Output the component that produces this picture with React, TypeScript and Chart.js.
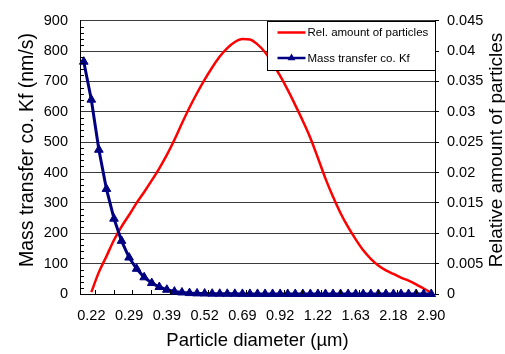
import React, { useEffect, useRef } from "react";
import { Chart, registerables } from "chart.js";

Chart.register(...registerables);

// ---- data ----
const xTickLabels = ["0.22", "0.29", "0.39", "0.52", "0.69", "0.92", "1.22", "1.63", "2.18", "2.90"];

// Mass transfer coefficient Kf (nm/s), one value per size class
const kfValues = [
  765, 640, 475, 346, 248, 175, 120, 83, 55, 36,
  23, 14, 8, 5, 3, 2, 1.5, 1, 0.8, 0.6,
  0.5, 0.4, 0.3, 0.3, 0.2, 0.2, 0.2, 0.1, 0.1, 0.1,
  0.1, 0.1, 0.1, 0, 0, 0, 0, 0, 0, 0,
  0, 0, 0, 0, 0, 0, 0,
];

// Relative amount of particles, one value per size class
const relAmount = [
  null, 0.0003, 0.0036, 0.0062, 0.0089, 0.0111, 0.013, 0.015, 0.0168, 0.0187,
  0.0207, 0.0229, 0.0254, 0.0281, 0.0307, 0.0331, 0.0353, 0.0373, 0.0391, 0.0405,
  0.0415, 0.042, 0.0419, 0.0411, 0.0398, 0.038, 0.0359, 0.0336, 0.0311, 0.0285,
  0.0257, 0.0224, 0.019, 0.016, 0.0133, 0.011, 0.009, 0.0072, 0.0058, 0.0047,
  0.0039, 0.0033, 0.0027, 0.0022, 0.0016, 0.0009, 0.0002,
];

// category labels: a label on every fifth size class, starting with the second
const categories = kfValues.map((_, i) => ((i - 1) % 5 === 0 ? xTickLabels[(i - 1) / 5] : ""));

const leftTicks = [0, 100, 200, 300, 400, 500, 600, 700, 800, 900];
const rightTicks = [0, 0.005, 0.01, 0.015, 0.02, 0.025, 0.03, 0.035, 0.04, 0.045];

const seriesNames = ["Rel. amount of particles", "Mass transfer co. Kf"];
const xTitle = "Particle diameter (\u00b5m)";
const yTitle = "Mass transfer co. Kf (nm/s)";
const y1Title = "Relative amount of particles";

const FONT = "'Liberation Sans', Arial, sans-serif";
const RED = "#ff0000";
const NAVY = "#000080";

function drawTriangle(ctx: CanvasRenderingContext2D, x: number, y: number, r: number) {
  ctx.beginPath();
  ctx.moveTo(x, y - r);
  ctx.lineTo(x + r * 0.866, y + r * 0.5);
  ctx.lineTo(x - r * 0.866, y + r * 0.5);
  ctx.closePath();
  ctx.fill();
}

const decorPlugin = {
  id: "decor",
  afterDraw(chart: any) {
    const ctx: CanvasRenderingContext2D = chart.ctx;
    const area = chart.chartArea;
    const yScale = chart.scales.y;
    const xScale = chart.scales.x;
    ctx.save();
    // minor ticks on left axis (inside)
    ctx.strokeStyle = "#000";
    ctx.lineWidth = 1;
    for (let v = 20; v < 900; v += 20) {
      if (v % 100 === 0) continue;
      const y = Math.round(yScale.getPixelForValue(v)) + 0.5;
      ctx.beginPath();
      ctx.moveTo(area.left, y);
      ctx.lineTo(area.left + 4, y);
      ctx.stroke();
    }
    // tick marks on bottom axis (inside)
    for (let k = 0; k <= 18; k++) {
      const idx = 1.45 + 2.5 * k;
      if (idx > kfValues.length - 1) break;
      const x = Math.round(xScale.getPixelForValue(idx)) + 0.5;
      ctx.beginPath();
      ctx.moveTo(x, area.bottom);
      ctx.lineTo(x, area.bottom - 4);
      ctx.stroke();
    }

    // legend box
    const lw = 168;
    const lh = 49;
    const lx = Math.round(area.right - lw) + 0.5;
    const ly = Math.round(area.top) + 0.5;
    ctx.fillStyle = "#fff";
    ctx.fillRect(lx, ly, lw, lh);
    ctx.strokeStyle = "#000";
    ctx.lineWidth = 1;
    ctx.strokeRect(lx, ly, lw, lh);
    const rows = [ly + 11, ly + 36.5];
    const colors = [RED, NAVY];
    ctx.font = `11.5px ${FONT}`;
    ctx.textBaseline = "middle";
    ctx.textAlign = "left";
    for (let i = 0; i < 2; i++) {
      ctx.strokeStyle = colors[i];
      ctx.lineWidth = 2.5;
      ctx.beginPath();
      ctx.moveTo(lx + 10, rows[i]);
      ctx.lineTo(lx + 38, rows[i]);
      ctx.stroke();
      if (i === 1) {
        ctx.fillStyle = NAVY;
        drawTriangle(ctx, lx + 24, rows[i], 4.5);
      }
      ctx.fillStyle = "#000";
      ctx.fillText(seriesNames[i], lx + 40, rows[i] + 0.5);
    }

    // axis titles
    ctx.fillStyle = "#000";
    ctx.textAlign = "center";
    ctx.textBaseline = "alphabetic";
    ctx.font = `19.5px ${FONT}`;
    ctx.save();
    ctx.translate(33, 150);
    ctx.rotate(-Math.PI / 2);
    ctx.fillText(yTitle, 0, 0);
    ctx.restore();
    ctx.font = `19px ${FONT}`;
    ctx.save();
    ctx.translate(502, 150);
    ctx.rotate(-Math.PI / 2);
    ctx.fillText(y1Title, 0, 0);
    ctx.restore();
    ctx.font = `18.5px ${FONT}`;
    ctx.fillText(xTitle, (area.left + area.right) / 2, 346);
    ctx.restore();
  },
};

export default function App() {
  const ref = useRef<HTMLCanvasElement>(null);
  useEffect(() => {
    document.body.style.margin = "0";
    if (!ref.current) return;
    const chart = new Chart(ref.current, {
      type: "line",
      data: {
        labels: categories,
        datasets: [
          {
            label: seriesNames[0],
            data: relAmount as any,
            yAxisID: "y1",
            borderColor: RED,
            backgroundColor: RED,
            borderWidth: 2.5,
            pointRadius: 0,
            cubicInterpolationMode: "monotone",
            clip: false as any,
            order: 2,
          },
          {
            label: seriesNames[1],
            data: kfValues,
            yAxisID: "y",
            borderColor: NAVY,
            backgroundColor: NAVY,
            borderWidth: 3,
            pointStyle: "triangle",
            pointRadius: 5,
            pointBorderWidth: 1,
            pointBorderColor: NAVY,
            pointBackgroundColor: NAVY,
            tension: 0,
            clip: false as any,
            order: 1,
          },
        ],
      },
      options: {
        responsive: false,
        animation: false,
        events: [],
        layout: { padding: { top: 15, left: 0, right: 0, bottom: 0 } },
        plugins: { legend: { display: false }, tooltip: { enabled: false } },
        scales: {
          x: {
            type: "category",
            offset: true,
            grid: { display: false },
            border: { display: true, color: "#000", width: 1 },
            ticks: {
              autoSkip: false,
              maxRotation: 0,
              padding: 5,
              color: "#000",
              font: { family: FONT, size: 14.5 },
              callback: (_v: any, i: number) => categories[i],
            },
            afterFit: (s: any) => {
              s.height = 60;
            },
          },
          y: {
            position: "left",
            min: 0,
            max: 900,
            afterBuildTicks: (s: any) => {
              s.ticks = leftTicks.map((v) => ({ value: v }));
            },
            grid: { color: "#3a3a3a", lineWidth: 1, drawTicks: false },
            border: { display: true, color: "#000", width: 1 },
            ticks: {
              padding: 12,
              color: "#000",
              font: { family: FONT, size: 14.5 },
            },
            afterFit: (s: any) => {
              s.width = 80;
            },
          },
          y1: {
            position: "right",
            min: 0,
            max: 0.045,
            afterBuildTicks: (s: any) => {
              s.ticks = rightTicks.map((v) => ({ value: v }));
            },
            grid: { drawOnChartArea: false, drawTicks: true, tickLength: 4, color: "#000" },
            border: { display: true, color: "#000", width: 1 },
            ticks: {
              padding: 8,
              color: "#000",
              font: { family: FONT, size: 14.5 },
              callback: (v: any) => String(+Number(v).toFixed(3)),
            },
            afterFit: (s: any) => {
              s.width = 70;
            },
          },
        },
      },
      plugins: [decorPlugin],
    });
    return () => chart.destroy();
  }, []);
  return (
    <div style={{ width: 505, height: 354 }}>
      <canvas ref={ref} width={505} height={354} style={{ display: "block" }} />
    </div>
  );
}
